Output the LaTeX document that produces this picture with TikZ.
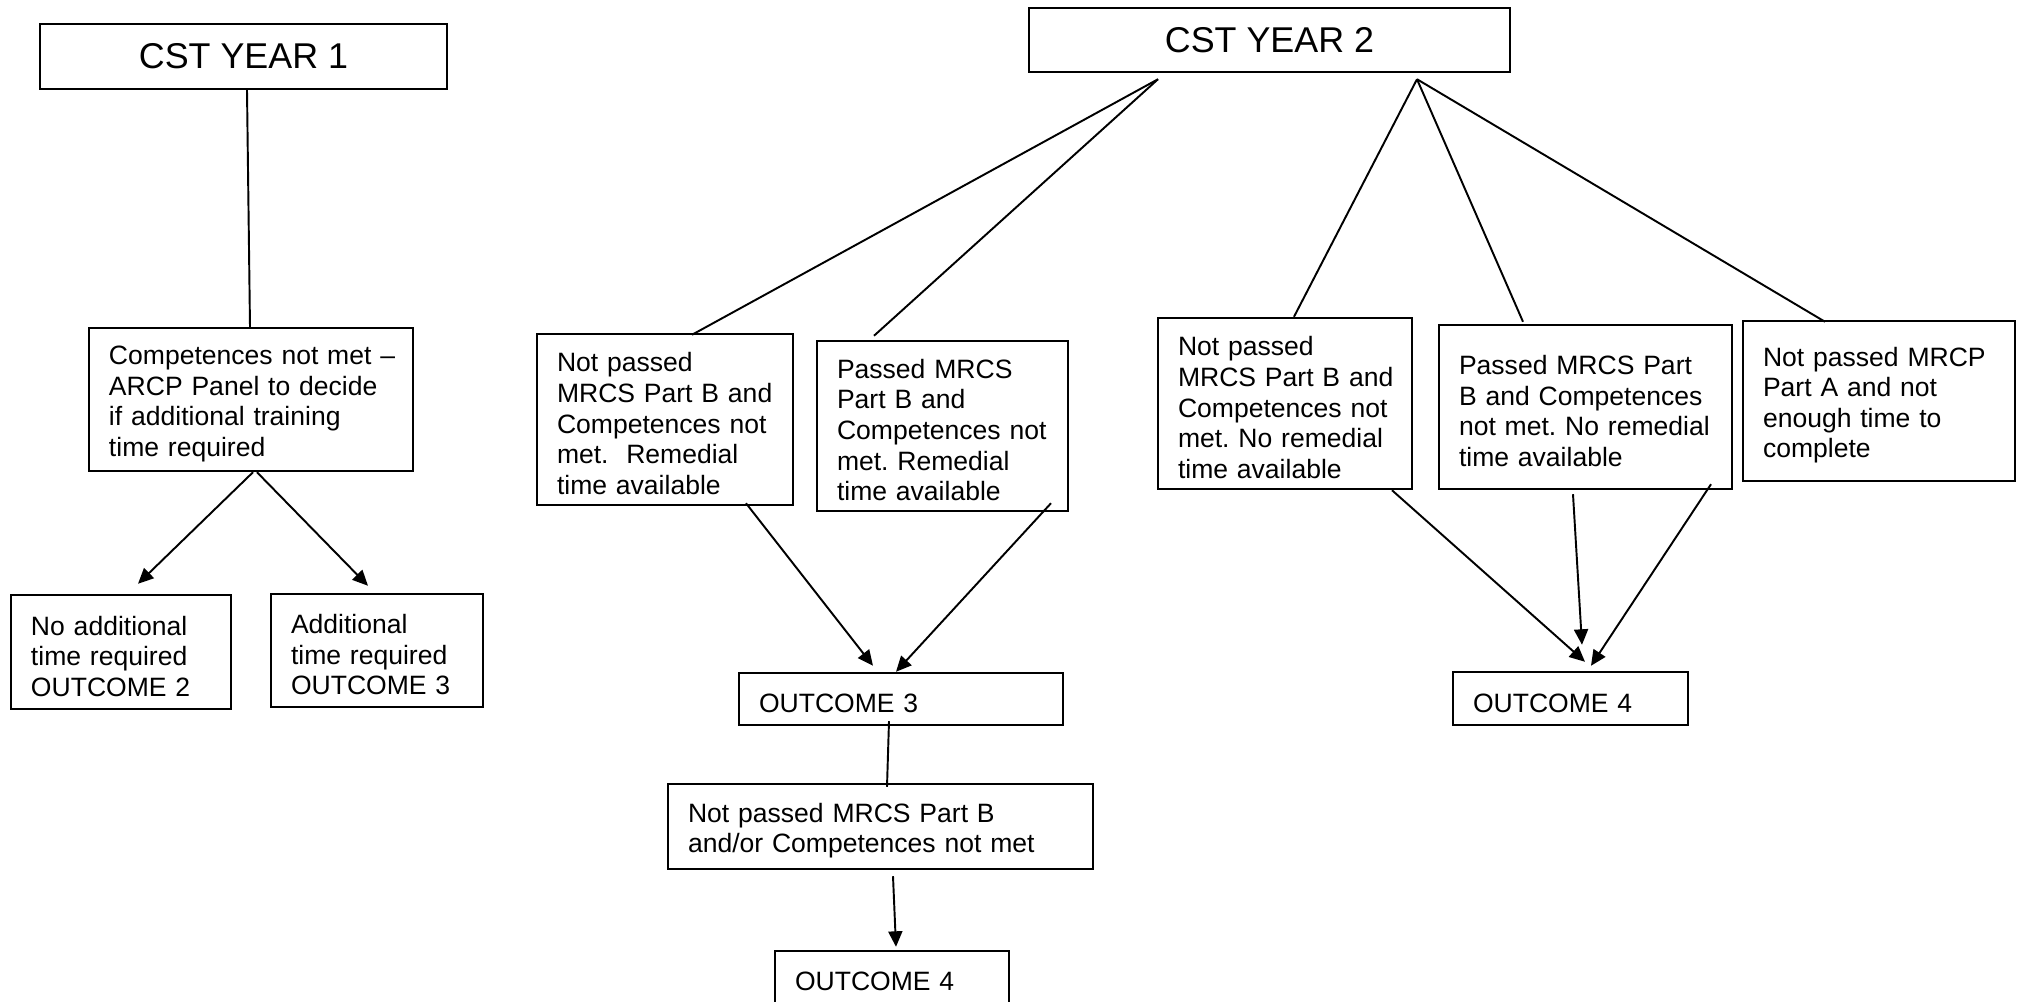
\documentclass[tikz,border=0pt]{standalone}
\usepackage{fontspec}
\setmainfont{Liberation Sans}
\usepackage{tikz}
\usetikzlibrary{positioning,calc,arrows.meta}

\begin{document}
\begin{tikzpicture}[
    yearbox/.style={draw, line width=0.7pt, inner sep=0pt, font=\fontsize{10.2}{12}\selectfont},
    box/.style={draw, line width=0.7pt, align=left, inner xsep=0pt, inner ysep=0pt,
        font=\fontsize{7.55}{8.7}\selectfont,
        execute at begin node={\leftskip=0.2cm\frenchspacing\hyphenpenalty=10000\rule{0pt}{7.8pt}}},
    link/.style={line width=0.55pt},
    arr/.style={line width=0.55pt, -{Triangle[length=4.4pt,width=4pt]}}
]
    \useasboundingbox (0,0) rectangle (20.17,-10.02);
    \clip (0,0) rectangle (20.17,-10.02);

    % Year 1
    \node[yearbox, minimum width=4.07cm, minimum height=0.65cm] (y1) at (2.435,-0.565) {CST YEAR 1};
    \node[box, text width=3.24cm, minimum height=1.43cm] (comp) at (2.51,-3.995) {Competences not met --\\ARCP Panel to decide\\if additional training\\time required};
    \node[box, text width=2.20cm, minimum height=1.14cm] (noadd) at (1.21,-6.52) {No additional\\time required\\OUTCOME 2};
    \node[box, text width=2.12cm, minimum height=1.13cm] (add) at (3.77,-6.505) {Additional\\time required\\OUTCOME 3};

    \draw[link] ($(y1.south)+(0.035,0)$) -- ($(comp.north)+(-0.01,0)$);
    \draw[arr] ($(comp.south)+(0.02,0)$) -- ($(noadd.north)+(0.17,0.10)$);
    \draw[arr] ($(comp.south)+(0.06,0)$) -- ($(add.north)+(-0.09,0.07)$);

    % Year 2
    \node[yearbox, minimum width=4.81cm, minimum height=0.64cm] (y2) at (12.695,-0.40) {CST YEAR 2};
    \coordinate (y2l) at ($(y2.south)+(-1.115,-0.06)$);
    \coordinate (y2r) at ($(y2.south)+(1.475,-0.06)$);

    \node[box, text width=2.56cm, minimum height=1.71cm] (nprem) at (6.65,-4.195) {Not passed\\MRCS Part B and\\Competences not\\met.\ \ Remedial\\time available};
    \node[box, text width=2.51cm, minimum height=1.70cm] (prem) at (9.425,-4.26) {Passed MRCS\\Part B and\\Competences not\\met. Remedial\\time available};
    \node[box, text width=2.54cm, minimum height=1.71cm] (npnorem) at (12.85,-4.035) {Not passed\\MRCS Part B and\\Competences not\\met. No remedial\\time available};
    \node[box, text width=2.93cm, minimum height=1.64cm] (pnorem) at (15.855,-4.07) {Passed MRCS Part\\B and Competences\\not met. No remedial\\time available};
    \node[box, text width=2.72cm, minimum height=1.60cm] (mrcp) at (18.79,-4.01) {Not passed MRCP\\Part A and not\\enough time to\\complete};

    \draw[link] (y2l) -- ($(nprem.north)+(0.27,-0.02)$);
    \draw[link] (y2l) -- ($(prem.north)+(-0.685,0.04)$);
    \draw[link] (y2r) -- ($(npnorem.north)+(0.09,0)$);
    \draw[link] (y2r) -- ($(pnorem.north)+(-0.625,0.02)$);
    \draw[link] (y2r) -- ($(mrcp.north)+(-0.54,-0.02)$);

    % Outcome 3 branch
    \node[box, text width=3.24cm, minimum height=0.52cm] (out3) at (9.01,-6.99) {OUTCOME 3};
    \node[box, text width=4.25cm, minimum height=0.85cm] (andor) at (8.805,-8.265) {Not passed MRCS Part B\\and/or Competences not met};
    \node[box, text width=2.34cm, minimum height=0.52cm] (out4a) at (8.92,-9.77) {OUTCOME 4};

    \draw[arr] ($(nprem.south)+(0.81,0.03)$) -- ($(out3.north)+(-0.28,0.06)$);
    \draw[arr] ($(prem.south)+(1.085,0.09)$) -- ($(out3.north)+(-0.05,0)$);
    \draw[link] ($(out3.south)+(-0.12,0.05)$) -- ($(andor.north)+(0.065,-0.04)$);
    \draw[arr] ($(andor.south)+(0.125,-0.06)$) -- ($(out4a.north)+(0.04,0.03)$);

    % Outcome 4 branch
    \node[box, text width=2.35cm, minimum height=0.53cm] (out4b) at (15.705,-6.985) {OUTCOME 4};

    \draw[arr] ($(npnorem.south)+(1.07,0)$) -- ($(out4b.north)+(0.145,0.09)$);
    \draw[arr] ($(pnorem.south)+(-0.125,-0.04)$) -- ($(out4b.north)+(0.115,0.26)$);
    \draw[arr] ($(pnorem.south)+(1.255,0.06)$) -- ($(out4b.north)+(0.205,0.05)$);
\end{tikzpicture}
\end{document}
